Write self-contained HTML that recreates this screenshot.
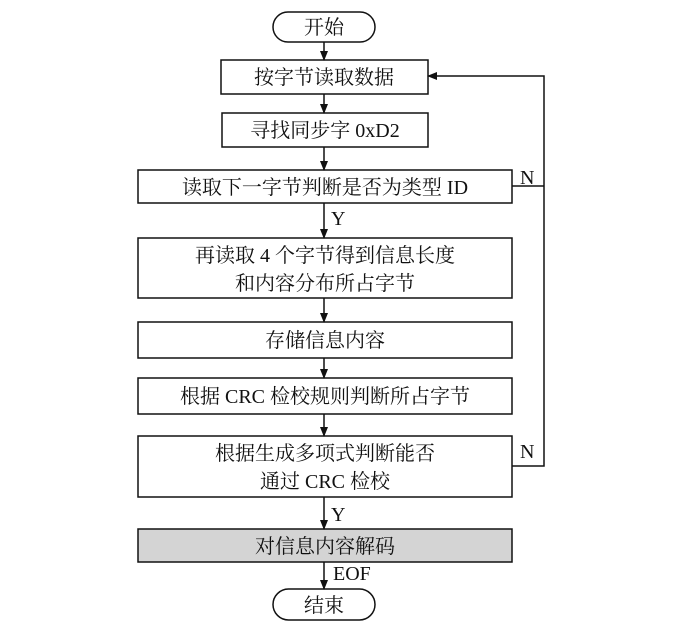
<!DOCTYPE html>
<html><head><meta charset="utf-8"><style>
body{margin:0;background:#fff}
svg text{font-family:"Liberation Serif","Noto Serif CJK SC","Noto Sans CJK SC",serif;font-size:20px;fill:#111}
</style></head><body>
<svg width="700" height="623" viewBox="0 0 700 623" xmlns="http://www.w3.org/2000/svg">
<defs><marker id="a" markerWidth="10" markerHeight="10" refX="9" refY="5" orient="auto" markerUnits="userSpaceOnUse"><path d="M0,1 L10,5 L0,9 z" fill="#111"/></marker></defs>
<g stroke="#111" stroke-width="1.5" fill="none">
<rect x="273" y="12" width="102" height="30" rx="15"/>
<rect x="221" y="60" width="207" height="34"/>
<rect x="222" y="113" width="206" height="34"/>
<rect x="138" y="170" width="374" height="33"/>
<rect x="138" y="238" width="374" height="60"/>
<rect x="138" y="322" width="374" height="36"/>
<rect x="138" y="378" width="374" height="36"/>
<rect x="138" y="436" width="374" height="61"/>
<rect x="138" y="529" width="374" height="33" fill="#d4d4d4"/>
<rect x="273" y="589" width="102" height="31" rx="15.5"/>
<line x1="324" y1="42" x2="324" y2="60" marker-end="url(#a)"/>
<line x1="324" y1="94" x2="324" y2="113" marker-end="url(#a)"/>
<line x1="324" y1="147" x2="324" y2="170" marker-end="url(#a)"/>
<line x1="324" y1="203" x2="324" y2="238" marker-end="url(#a)"/>
<line x1="324" y1="298" x2="324" y2="322" marker-end="url(#a)"/>
<line x1="324" y1="358" x2="324" y2="378" marker-end="url(#a)"/>
<line x1="324" y1="414" x2="324" y2="436" marker-end="url(#a)"/>
<line x1="324" y1="497" x2="324" y2="529" marker-end="url(#a)"/>
<line x1="324" y1="562" x2="324" y2="589" marker-end="url(#a)"/>
<polyline points="512,186 544,186"/>
<polyline points="512,466 544,466 544,76 428,76" marker-end="url(#a)"/>
</g>
<g text-anchor="middle">
<text x="324" y="34">开始</text>
<text x="324" y="84">按字节读取数据</text>
<text x="325" y="137">寻找同步字 0xD2</text>
<text x="325" y="194">读取下一字节判断是否为类型 ID</text>
<text x="325" y="262">再读取 4 个字节得到信息长度</text>
<text x="325" y="290">和内容分布所占字节</text>
<text x="325" y="347">存储信息内容</text>
<text x="325" y="403">根据 CRC 检校规则判断所占字节</text>
<text x="325" y="460">根据生成多项式判断能否</text>
<text x="325" y="488">通过 CRC 检校</text>
<text x="325" y="553">对信息内容解码</text>
<text x="324" y="612">结束</text>
</g>
<text x="520" y="184">N</text>
<text x="520" y="458">N</text>
<text x="331" y="225">Y</text>
<text x="331" y="521">Y</text>
<text x="333" y="580">EOF</text>
</svg>
</body></html>
